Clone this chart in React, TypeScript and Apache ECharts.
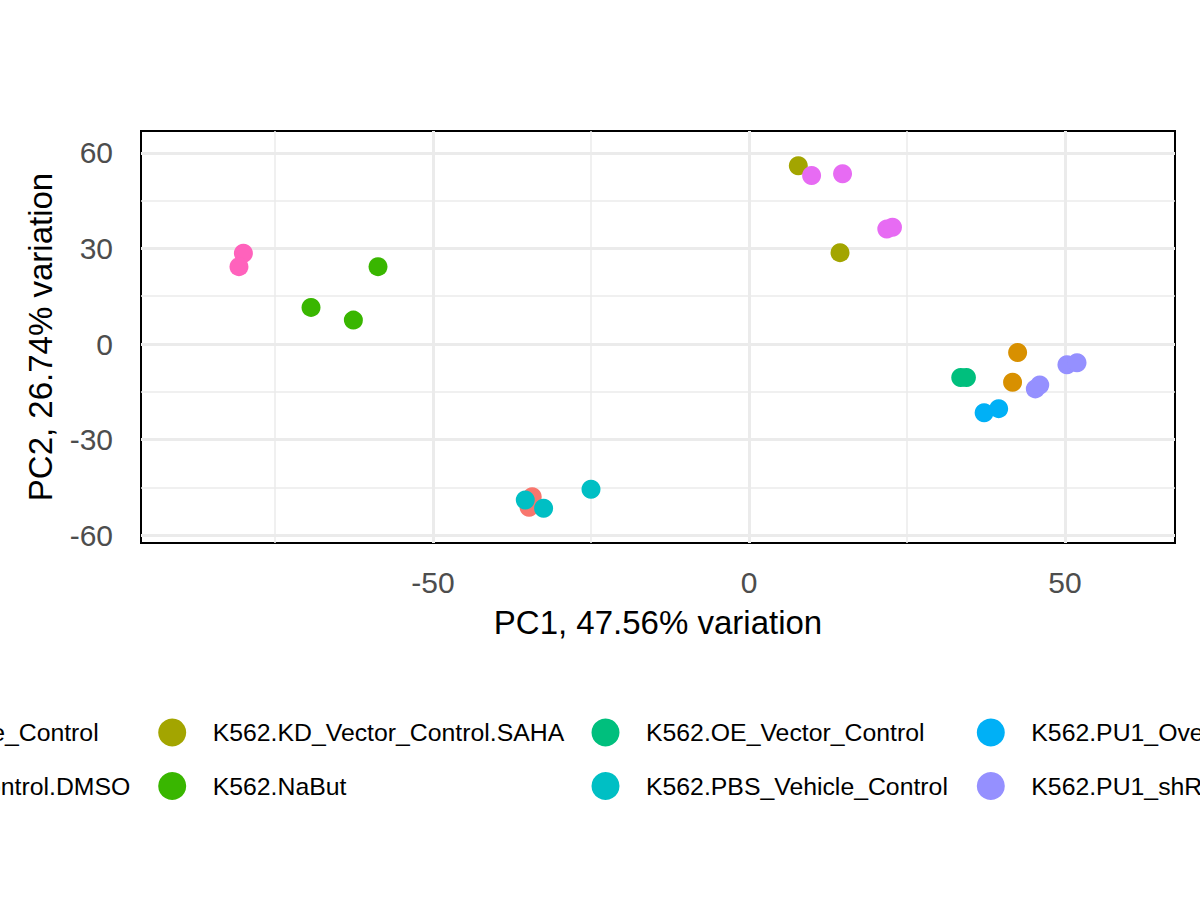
import { useEffect, useRef } from 'react';
import * as echarts from 'echarts';

// PCA sample coordinates [PC1, PC2] per group
const dmsoVehicle = [[-34.3, -48.0], [-34.8, -51.3]];
const kdVectorDmso = [[42.5, -2.7], [41.7, -12.0]];
const kdVectorSaha = [[7.8, 56.0], [14.4, 28.7]];
const naBut = [[-69.3, 11.5], [-62.6, 7.5], [-58.7, 24.3]];
const oeVector = [[33.5, -10.5], [34.4, -10.5]];
const pbsVehicle = [[-35.4, -49.0], [-32.5, -51.6], [-25.0, -45.6]];
const pu1Over = [[37.2, -21.6], [39.5, -20.3]];
const pu1Sh = [[45.3, -14.1], [46.0, -12.9], [50.3, -6.5], [51.9, -5.9]];
const pu1ShSaha = [[9.9, 52.9], [14.8, 53.5], [21.8, 36.1], [22.7, 36.7]];
const saha = [[-80.0, 28.5], [-80.7, 24.3]];

const groupNames = [
  'K562.DMSO_Vehicle_Control',
  'K562.KD_Vector_Control.DMSO',
  'K562.KD_Vector_Control.SAHA',
  'K562.NaBut',
  'K562.OE_Vector_Control',
  'K562.PBS_Vehicle_Control',
  'K562.PU1_Overexpression',
  'K562.PU1_shRNA',
  'K562.PU1_shRNA.SAHA',
  'K562.SAHA',
];
const groupData = [dmsoVehicle, kdVectorDmso, kdVectorSaha, naBut, oeVector, pbsVehicle, pu1Over, pu1Sh, pu1ShSaha, saha];
const groupColors = ['#F8766D', '#D89000', '#A3A500', '#39B600', '#00BF7D', '#00BFC4', '#00B0F6', '#9590FF', '#E76BF3', '#FF62BC'];

// axis ticks / grid lines
const xTicks = [-50, 0, 50];
const xMinor = [-75, -25, 25];
const yTicks = [-60, -30, 0, 30, 60];
const yMinor = [-45, -15, 15, 45];

const FONT = '"Liberation Sans", Arial, Helvetica, sans-serif';

// legend column left edges (px), 2 rows each, filled by column
const legendLefts = [-282.5, 158.2, 591.5, 976.8, 1357.5];

export default function App() {
  const chartRef = useRef<HTMLDivElement>(null);

  useEffect(() => {
    if (!chartRef.current) return;
    document.body.style.margin = '0';
    const chart = echarts.init(chartRef.current, null, { renderer: 'svg' });

    const series: any[] = groupNames.map((name, i) => ({
      type: 'scatter',
      name,
      data: groupData[i],
      symbolSize: 19,
      z: 3,
      itemStyle: { color: groupColors[i], opacity: 1 },
    }));

    // background grid lines (ggplot theme_bw)
    series.unshift({
      type: 'scatter',
      name: '__grid',
      data: [],
      z: 1,
      markLine: {
        silent: true,
        z: 1,
        symbol: ['none', 'none'],
        label: { show: false },
        lineStyle: { color: '#EBEBEB', type: 'solid' },
        data: [
          ...xMinor.map(v => ({ xAxis: v, lineStyle: { width: 1.5 } })),
          ...yMinor.map(v => ({ yAxis: v, lineStyle: { width: 1.5 } })),
          ...xTicks.map(v => ({ xAxis: v, lineStyle: { width: 3 } })),
          ...yTicks.map(v => ({ yAxis: v, lineStyle: { width: 3 } })),
        ],
      },
    });

    const legends = legendLefts.map((left, c) => ({
      orient: 'vertical',
      left,
      top: 718.5,
      padding: 0,
      itemWidth: 28,
      itemHeight: 28,
      itemGap: 25.5,
      icon: 'circle',
      selectedMode: false,
      data: groupNames.slice(c * 2, c * 2 + 2),
      textStyle: { fontSize: 24.8, color: '#000', fontFamily: FONT, padding: [0, 0, 0, 21.5] },
    }));

    const option: any = {
      animation: false,
      backgroundColor: '#fff',
      textStyle: { fontFamily: FONT },
      grid: {
        left: 141,
        right: 25,
        top: 131,
        bottom: 357,
        show: true,
        borderColor: '#000',
        borderWidth: 2,
        backgroundColor: 'transparent',
      },
      legend: legends,
      xAxis: {
        type: 'value',
        min: -96.2,
        max: 67.4,
        name: 'PC1, 47.56% variation',
        nameLocation: 'middle',
        nameGap: 63,
        nameTextStyle: { fontSize: 33, color: '#000', fontFamily: FONT },
        axisLine: { show: false },
        splitLine: { show: false },
        axisTick: { show: true, customValues: xTicks, length: 10, lineStyle: { color: '#333333', width: 3 } },
        axisLabel: { customValues: xTicks, fontSize: 30, color: '#4D4D4D', margin: 24, fontFamily: FONT },
      },
      yAxis: {
        type: 'value',
        min: -62.5,
        max: 66.9,
        name: 'PC2, 26.74% variation',
        nameLocation: 'middle',
        nameGap: 84,
        nameTextStyle: { fontSize: 33, color: '#000', fontFamily: FONT },
        axisLine: { show: false },
        splitLine: { show: false },
        axisTick: { show: true, customValues: yTicks, length: 10, lineStyle: { color: '#333333', width: 3 } },
        axisLabel: { customValues: yTicks, fontSize: 30, color: '#4D4D4D', margin: 28, fontFamily: FONT },
      },
      series,
    };

    chart.setOption(option);
    return () => chart.dispose();
  }, []);

  return <div ref={chartRef} style={{ width: 1200, height: 900 }} />;
}
